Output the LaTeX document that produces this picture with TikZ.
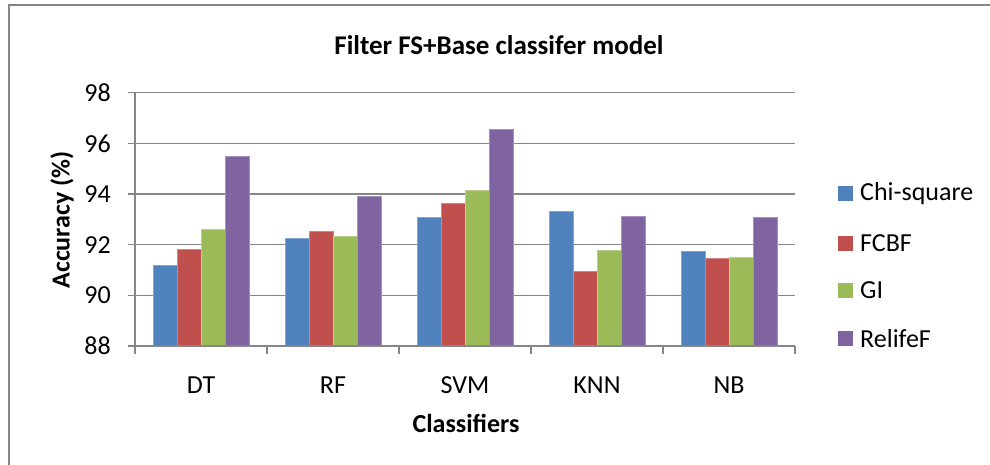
\documentclass[tikz,border=0pt]{standalone}
\usepackage{fontspec}
\setmainfont{Carlito}
\definecolor{axisgray}{HTML}{868686}
\definecolor{chiblue}{HTML}{4F81BD}
\definecolor{fcbfred}{HTML}{C0504D}
\definecolor{gigreen}{HTML}{9BBB59}
\definecolor{relpurple}{HTML}{8064A2}
\tikzset{
  gridline/.style={draw=axisgray, line width=1.6pt},
  axisline/.style={draw=axisgray, line width=1.6pt},
  ticklabel/.style={font=\fontsize{26}{30}\selectfont, text=black, inner sep=0pt},
  catlabel/.style={font=\fontsize{26}{30}\selectfont, text=black, inner sep=0pt},
  axistitle/.style={font=\fontsize{26}{30}\selectfont\bfseries, text=black, inner sep=0pt},
  charttitle/.style={font=\fontsize{27}{32}\selectfont\bfseries, text=black, inner sep=0pt},
  legendtext/.style={font=\fontsize{26}{30}\selectfont, text=black, inner sep=0pt, anchor=west},
  bar/.style={fill=#1, draw=#1!70!white, line width=0.6pt},
}
% value -> vertical position (88 at y=346, 25.33 units per point)
\newcommand{\valpos}[1]{346-(#1-88)*25.33}
\begin{document}
\begin{tikzpicture}[x=1pt,y=-1pt]
\path[use as bounding box] (0,0) rectangle (990,465);
% chart frame
\begin{scope}
  \clip (0,0) rectangle (990,465);
  \draw[draw=axisgray, line width=2pt] (9,5) rectangle (1000,480);
\end{scope}

\node[charttitle] (title) at (499,45) {Filter FS+Base classifer model};

% horizontal gridlines and value labels
\foreach \v in {88,90,...,98}{
  \pgfmathsetmacro{\yy}{\valpos{\v}}
  \draw[gridline] (128,\yy) -- (795,\yy);
  \node[ticklabel, anchor=east] (tick\v) at (111,\yy) {\v};
}
% vertical axis
\draw[axisline] (135,92.7) -- (135,354);
% category separators
\foreach \i in {1,...,5}{
  \pgfmathsetmacro{\xx}{135+132*\i}
  \draw[axisline] (\xx,346) -- (\xx,354);
}

% bars: classifier / Chi-square / FCBF / GI / RelifeF
\foreach \name/\a/\b/\c/\d [count=\i from 0] in {
    DT/91.2/91.82/92.6/95.5,
    RF/92.26/92.53/92.34/93.91,
    SVM/93.08/93.63/94.16/96.55,
    KNN/93.33/90.95/91.79/93.14,
    NB/91.72/91.46/91.49/93.09}{
  \pgfmathsetmacro{\left}{135+132*\i+18}
  \foreach \val/\col [count=\j from 0] in {\a/chiblue,\b/fcbfred,\c/gigreen,\d/relpurple}{
    \pgfmathsetmacro{\xa}{\left+24*\j}
    \pgfmathsetmacro{\xb}{\left+24*(\j+1)}
    \pgfmathsetmacro{\top}{\valpos{\val}}
    \path[bar=\col] (\xa,346) rectangle (\xb,\top);
  }
  \node[catlabel] (cat\name) at (201+132*\i,385) {\name};
}
\draw[axisline] (128,346) -- (795,346);

% axis titles
\node[axistitle, rotate=90] (ytitle) at (62,220) {Accuracy (\%)};
\node[axistitle] (xtitle) at (466,423) {Classifiers};

% legend
\foreach \lab/\col/\yy in {Chi-square/chiblue/193.5, FCBF/fcbfred/243, GI/gigreen/290, RelifeF/relpurple/338.5}{
  \fill[\col] (838,\yy-7.5) rectangle (853,\yy+7.5);
  \node[legendtext] (leg\lab) at (860,\yy) {\lab};
}
\end{tikzpicture}
\end{document}
